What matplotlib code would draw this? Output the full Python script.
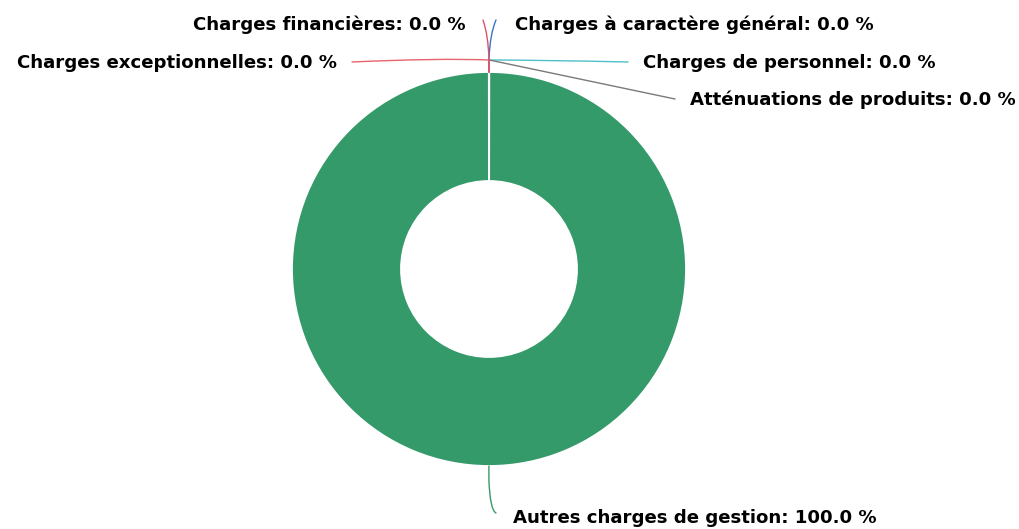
import numpy as np
import matplotlib
matplotlib.use("Agg")
import matplotlib.pyplot as plt
from matplotlib.path import Path
from matplotlib.patches import PathPatch

categories = [
    "Charges à caractère général",
    "Charges de personnel",
    "Atténuations de produits",
    "Autres charges de gestion",
    "Charges exceptionnelles",
    "Charges financières",
]
values = [120.0, 150.0, 40.0, 1250000.0, 60.0, 80.0]
colors = ["#3a74c4", "#4fc0c8", "#7a7a7a", "#359a6a", "#e8646e", "#e0506a"]

W, H = 1019, 529
fig = plt.figure(figsize=(W / 100, H / 100), dpi=100)
ax = fig.add_axes([0, 0, 1, 1])

def Y(py):
    return H - py

cx, cy = 489, Y(269)
R = 197
ring = 109

wedges, _ = ax.pie(values, colors=colors, startangle=90, counterclock=False,
                   center=(cx, cy), radius=R, frame=True,
                   wedgeprops=dict(width=ring, edgecolor="white", linewidth=1.3))
ax.set_xlim(0, W)
ax.set_ylim(0, H)
ax.set_aspect("equal")
ax.axis("off")

# label layout (pixel coords): text pos, ha, connector end, control pt, break distance
layout = {
    "Charges à caractère général": ((515, 25), "left", (496, 20), (490, 34), 14),
    "Charges de personnel": ((643, 63), "left", (628, 62), (540, 60), 12),
    "Atténuations de produits": ((690, 100), "left", (675, 99), None, 12),
    "Autres charges de gestion": ((513, 518), "left", (496, 513), (490, 510), 14),
    "Charges exceptionnelles": ((337, 63), "right", (352, 62), (440, 58), 12),
    "Charges financières": ((466, 25), "right", (483, 20), (488, 34), 14),
}

total = sum(values)
for w, name, val, col in zip(wedges, categories, values, colors):
    (tx, ty), ha, end, ctrl, d = layout[name]
    th = np.deg2rad((w.theta1 + w.theta2) / 2)
    p0 = (cx + R * np.cos(th), cy + R * np.sin(th))
    p1 = (cx + (R + d) * np.cos(th), cy + (R + d) * np.sin(th))
    e = (end[0], Y(end[1]))
    if ctrl is None:
        verts = [p0, p1, e]
        codes = [Path.MOVETO, Path.LINETO, Path.LINETO]
    else:
        c = (ctrl[0], Y(ctrl[1]))
        verts = [p0, p1, c, e]
        codes = [Path.MOVETO, Path.LINETO, Path.CURVE3, Path.CURVE3]
    ax.add_patch(PathPatch(Path(verts, codes), facecolor="none", edgecolor=col,
                           lw=1.0, capstyle="round"))
    pct = 100.0 * val / total
    ax.text(tx, Y(ty), f"{name}: {pct:.1f} %", ha=ha, va="center",
            fontsize=13.1, fontweight="bold", color="#000000",
            family="DejaVu Sans")

fig.savefig("out.png", dpi=100)
